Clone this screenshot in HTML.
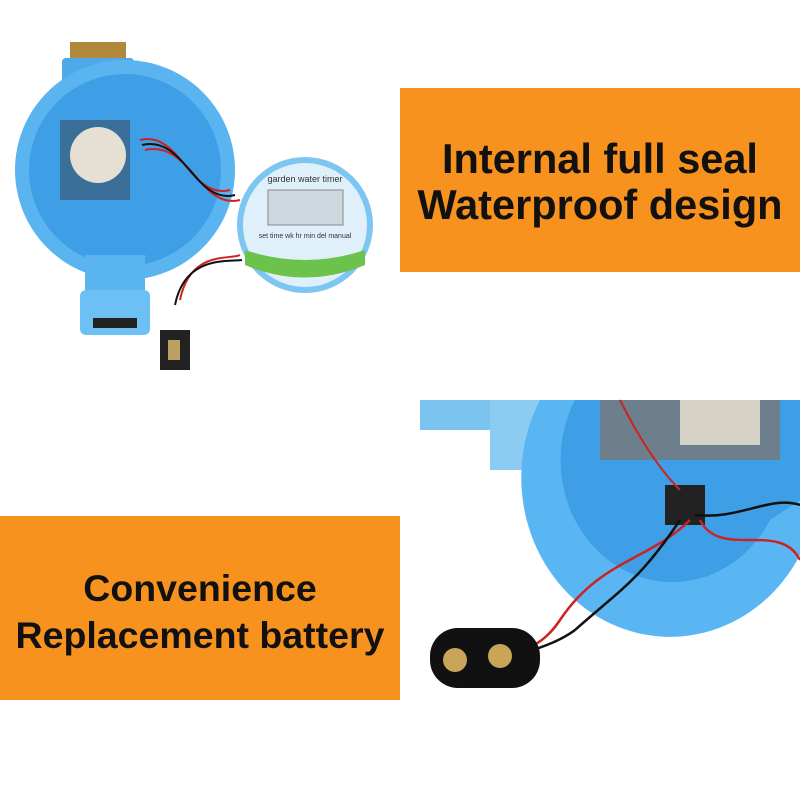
<!DOCTYPE html>
<html><head><meta charset="utf-8"><style>
html,body{margin:0;padding:0;background:#fff;}
#c{position:relative;width:800px;height:800px;overflow:hidden;background:#fff;font-family:"Liberation Sans",Arial,sans-serif;}
.box{position:absolute;background:#F7921E;display:flex;align-items:center;justify-content:center;text-align:center;font-weight:bold;color:#111;}
svg{position:absolute;left:0;top:0}
</style></head><body><div id="c">
<svg width="800" height="800" viewBox="0 0 800 800">
 <rect x="70" y="42" width="56" height="20" fill="#b08a3a"/>
 <rect x="62" y="58" width="72" height="30" rx="4" fill="#4fa8e8"/>
 <circle cx="125" cy="170" r="110" fill="#5ab4f0"/>
 <circle cx="125" cy="170" r="96" fill="#3f9fe6"/>
 <rect x="60" y="120" width="70" height="80" fill="#3a6f9a"/>
 <circle cx="98" cy="155" r="28" fill="#e6e0d4"/>
 <rect x="85" y="255" width="60" height="50" fill="#5ab4f0"/>
 <rect x="80" y="290" width="70" height="45" rx="6" fill="#6cc0f4"/>
 <rect x="93" y="318" width="44" height="10" fill="#222"/>
 <path d="M140 140 C180 130 190 200 230 190 M145 150 C190 140 200 210 240 200 M180 300 C190 250 230 260 240 255" stroke="#c22" stroke-width="2" fill="none"/>
 <path d="M142 145 C185 135 195 205 235 195 M175 305 C185 255 228 262 242 260" stroke="#111" stroke-width="2" fill="none"/>
 <rect x="160" y="330" width="30" height="40" fill="#222"/>
 <rect x="168" y="340" width="12" height="20" fill="#bba060"/>
 <circle cx="305" cy="225" r="68" fill="#7ec6f2"/>
 <circle cx="305" cy="225" r="62" fill="#dff0fb"/>
 <rect x="268" y="190" width="75" height="35" fill="#cfd8de" stroke="#888"/>
 <path d="M245 250 Q305 270 365 250 L365 265 Q305 290 245 265 Z" fill="#6cc24a"/>
 <text x="305" y="182" font-size="9" text-anchor="middle" fill="#333">garden water timer</text>
 <text x="305" y="238" font-size="7" text-anchor="middle" fill="#333">set time wk  hr  min  del manual</text>
 <rect x="420" y="400" width="90" height="30" fill="#7cc4f0"/>
 <rect x="490" y="400" width="70" height="70" fill="#8cccf2"/>
 <path d="M540 400 A140 150 0 0 0 800 555 L800 400 Z" fill="#5ab6f2"/>
 <path d="M575 400 A110 120 0 0 0 770 520 L800 500 L800 400 Z" fill="#3f9fe6"/>
 <rect x="600" y="400" width="180" height="60" fill="#6d7f8c"/>
 <rect x="680" y="400" width="80" height="45" fill="#d7d2c6"/>
 <rect x="665" y="485" width="40" height="40" fill="#222"/>
 <path d="M690 520 C650 560 600 560 560 620 C540 650 520 650 500 655 M700 520 C720 560 780 520 800 560" stroke="#c22" stroke-width="2.5" fill="none"/>
 <path d="M680 520 C640 580 620 590 575 630 C555 645 530 650 505 660 M695 515 C740 520 770 495 800 505" stroke="#111" stroke-width="2.5" fill="none"/>
 <path d="M620 400 C640 440 660 470 680 490" stroke="#c22" stroke-width="2" fill="none"/>
 <rect x="430" y="628" width="110" height="60" rx="28" fill="#111"/>
 <circle cx="455" cy="660" r="12" fill="#c9a55a"/>
 <circle cx="500" cy="656" r="12" fill="#c9a55a"/>
</svg>
<div class="box" style="left:400px;top:88px;width:400px;height:184px;font-size:41.5px;line-height:46px;padding-top:4px;box-sizing:border-box;">Internal full seal<br>Waterproof design</div>
<div class="box" style="left:0;top:516px;width:400px;height:184px;font-size:37.5px;line-height:47px;padding-top:8px;box-sizing:border-box;">Convenience<br>Replacement battery</div>
</div></body></html>
